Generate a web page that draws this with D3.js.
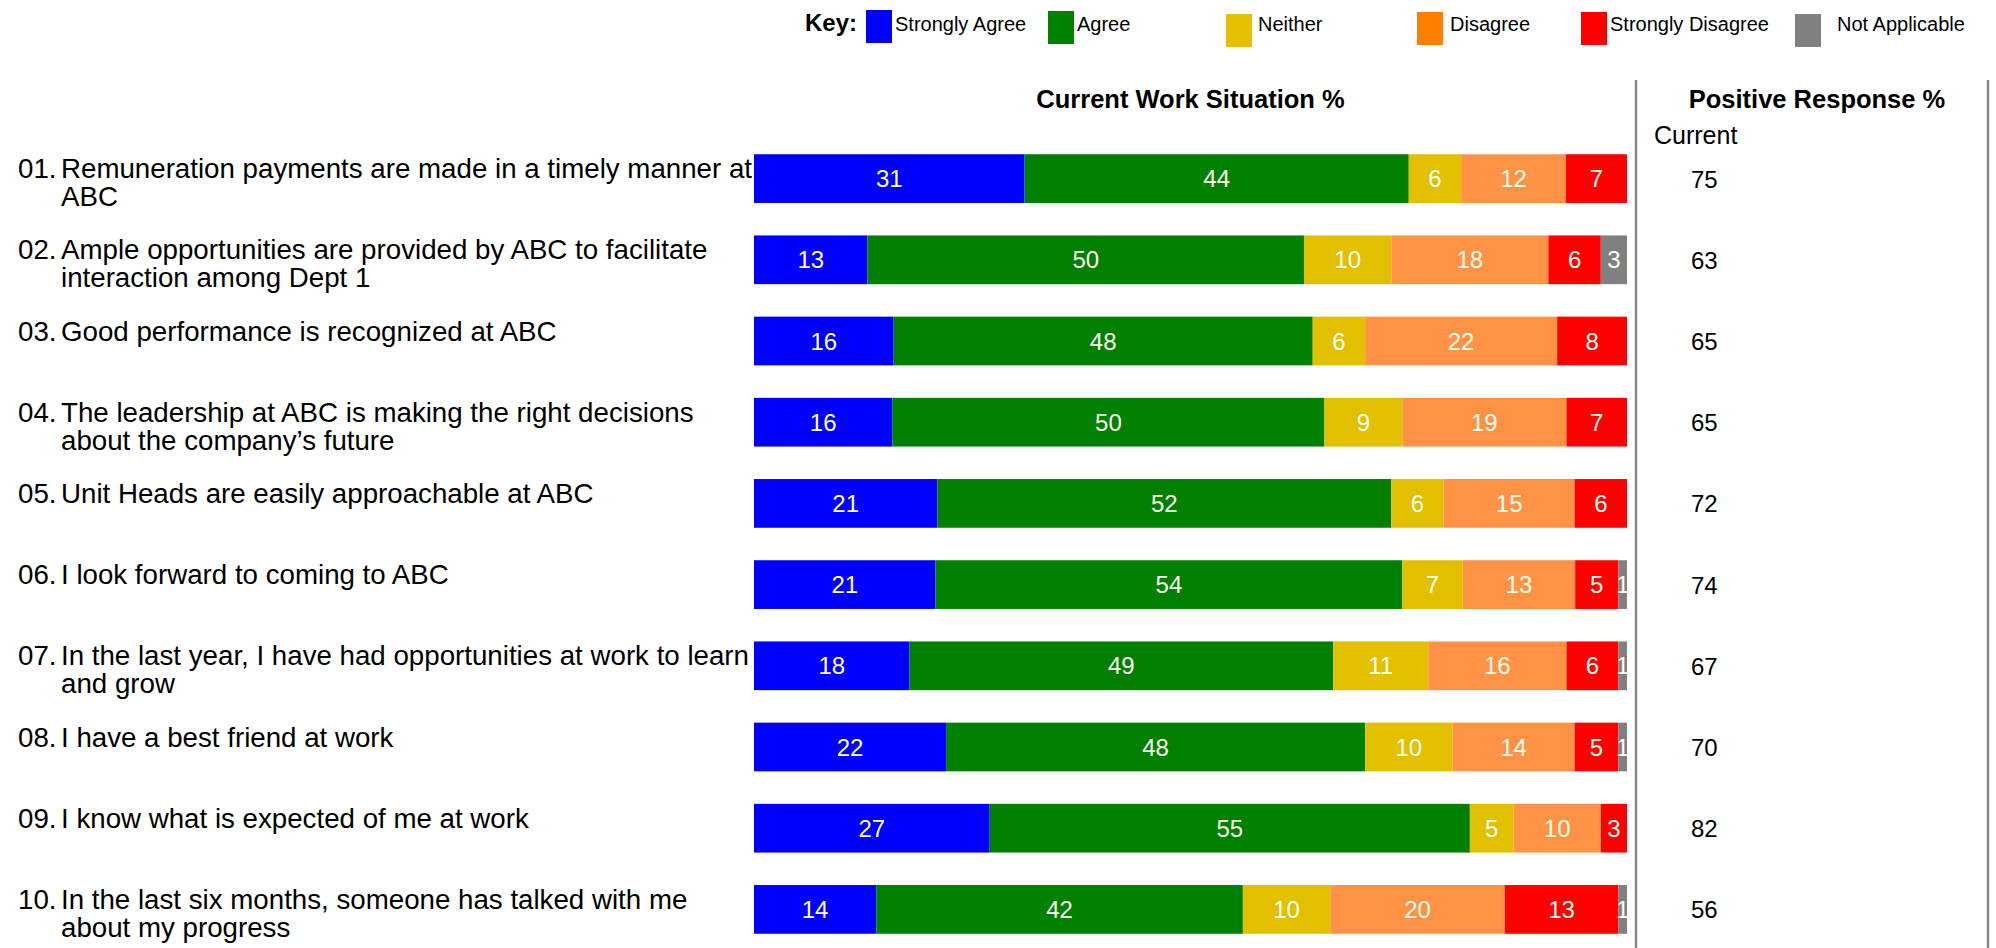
<!DOCTYPE html>
<html>
<head>
<meta charset="utf-8">
<script src="https://cdn.jsdelivr.net/npm/d3@7/dist/d3.min.js"></script>
<style>
  html, body { margin: 0; padding: 0; background: #ffffff; }
  svg { display: block; font-family: "Liberation Sans", Arial, Helvetica, sans-serif; }
</style>
</head>
<body>
<svg id="chart" width="1996" height="948"></svg>
<script>
// Survey statements (number + wrapped text lines)
const questionNumbers = ["01.", "02.", "03.", "04.", "05.", "06.", "07.", "08.", "09.", "10."];
const questionLines = [
  ["Remuneration payments are made in a timely manner at", "ABC"],
  ["Ample opportunities are provided by ABC to facilitate", "interaction among Dept 1"],
  ["Good performance is recognized at ABC"],
  ["The leadership at ABC is making the right decisions", "about the company\u2019s future"],
  ["Unit Heads are easily approachable at ABC"],
  ["I look forward to coming to ABC"],
  ["In the last year, I have had opportunities at work to learn", "and grow"],
  ["I have a best friend at work"],
  ["I know what is expected of me at work"],
  ["In the last six months, someone has talked with me", "about my progress"]
];

// Response categories
const responseKeys = ["Strongly Agree", "Agree", "Neither", "Disagree", "Strongly Disagree", "Not Applicable"];

// Percentages per category, one entry per statement
const stronglyAgree    = [31, 13, 16, 16, 21, 21, 18, 22, 27, 14];
const agree            = [44, 50, 48, 50, 52, 54, 49, 48, 55, 42];
const neither          = [ 6, 10,  6,  9,  6,  7, 11, 10,  5, 10];
const disagree         = [12, 18, 22, 19, 15, 13, 16, 14, 10, 20];
const stronglyDisagree = [ 7,  6,  8,  7,  6,  5,  6,  5,  3, 13];
const notApplicable    = [ 0,  3,  0,  0,  0,  1,  1,  1,  0,  1];

// Positive response (current)
const positiveCurrent = [75, 63, 65, 65, 72, 74, 67, 70, 82, 56];

const barColors    = ["#0000ff", "#008000", "#e2c000", "#ff9245", "#ff0000", "#808080"];
const legendColors = ["#0000ff", "#008000", "#e6c000", "#ff8000", "#ff0000", "#808080"];

const seriesValues = [stronglyAgree, agree, neither, disagree, stronglyDisagree, notApplicable];
const rows = questionNumbers.map((num, i) => {
  const row = { id: num };
  responseKeys.forEach((k, j) => { row[k] = seriesValues[j][i]; });
  return row;
});

const svg = d3.select("#chart");

// Layout
const barLeft = 754, barRight = 1627;
const x = d3.scaleLinear().domain([0, 1]).range([barLeft, barRight]);
const y = d3.scaleBand().domain(questionNumbers).range([138, 950]).paddingInner(0.4).paddingOuter(0.2);
const color = d3.scaleOrdinal().domain(responseKeys).range(barColors);

const stacked = d3.stack().keys(responseKeys).offset(d3.stackOffsetExpand)(rows);

// Statement labels
const labelG = svg.append("g").attr("font-size", 27.7).attr("fill", "#000");
rows.forEach((r, i) => {
  const top = y(r.id);
  const g = labelG.append("g");
  g.append("text").attr("x", 18).attr("y", top + 24).text(questionNumbers[i]);
  questionLines[i].forEach((line, k) => {
    g.append("text").attr("x", 61).attr("y", top + 24 + k * 28).text(line);
  });
});

// Stacked bars (clipped to the plot width)
svg.append("clipPath").attr("id", "barClip")
  .append("rect").attr("x", barLeft).attr("y", 0).attr("width", barRight - barLeft).attr("height", 948);

const barsG = svg.append("g").attr("clip-path", "url(#barClip)");
const layer = barsG.selectAll("g.layer").data(stacked).join("g")
  .attr("class", "layer").attr("fill", d => color(d.key));

layer.selectAll("rect").data(d => d.filter(s => s.data[d.key] > 0)).join("rect")
  .attr("x", d => x(d[0]))
  .attr("y", d => y(d.data.id))
  .attr("width", d => x(d[1]) - x(d[0]))
  .attr("height", y.bandwidth());

const valueG = barsG.append("g").attr("font-size", 24).attr("fill", "#fffff2").attr("text-anchor", "middle");
stacked.forEach(s => {
  s.forEach(d => {
    const v = d.data[s.key];
    if (v <= 0) return;
    valueG.append("text")
      .attr("x", (x(d[0]) + x(d[1])) / 2)
      .attr("y", y(d.data.id) + y.bandwidth() / 2 + 8.5)
      .text(v);
  });
});

// Column headers
svg.append("text").attr("x", (barLeft + barRight) / 2).attr("y", 108)
  .attr("text-anchor", "middle").attr("font-size", 25.5).attr("font-weight", "bold")
  .text("Current Work Situation %");
svg.append("text").attr("x", 1817).attr("y", 108)
  .attr("text-anchor", "middle").attr("font-size", 25.5).attr("font-weight", "bold")
  .text("Positive Response %");
svg.append("text").attr("x", 1654).attr("y", 144).attr("font-size", 25).text("Current");

// Divider lines
[1636, 1988].forEach(lx => {
  svg.append("line").attr("x1", lx).attr("x2", lx).attr("y1", 80).attr("y2", 948)
    .attr("stroke", "#888888").attr("stroke-width", 2.5);
});

// Positive response values
svg.append("g").attr("font-size", 24).attr("fill", "#000")
  .selectAll("text").data(positiveCurrent).join("text")
  .attr("x", 1691)
  .attr("y", (d, i) => y(questionNumbers[i]) + y.bandwidth() / 2 + 9)
  .text(d => d);

// Key
svg.append("text").attr("x", 805).attr("y", 31).attr("font-size", 24).attr("font-weight", "bold").text("Key:");
const legendSwatchX = [866, 1048, 1226, 1417, 1581, 1795];
const legendSwatchY = [10, 11, 14, 12, 12, 14];
const legendTextX   = [895, 1077, 1258, 1450, 1610, 1837];
const legendG = svg.append("g").attr("font-size", 20);
responseKeys.forEach((k, i) => {
  legendG.append("rect").attr("x", legendSwatchX[i]).attr("y", legendSwatchY[i])
    .attr("width", 26).attr("height", 33).attr("fill", legendColors[i]);
  legendG.append("text").attr("x", legendTextX[i]).attr("y", 31).text(k);
});
</script>
</body>
</html>
